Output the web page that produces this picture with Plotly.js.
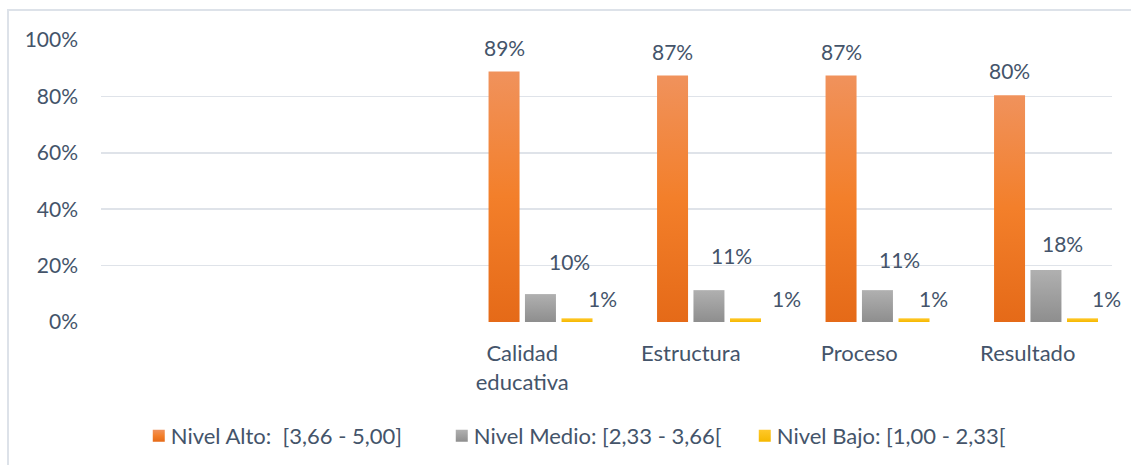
<!DOCTYPE html>
<html>
<head>
<meta charset="utf-8">
<script src="https://cdn.plot.ly/plotly-3.0.1.min.js"></script>
<style>
  html, body { margin: 0; padding: 0; background: #ffffff; overflow: hidden; }
  #wrap { position: relative; width: 1131px; height: 465px; }
  #chart { width: 1131px; height: 465px; }
  #frame { position: absolute; left: 7px; top: 9px; width: 1200px; height: 500px;
           border-left: 2px solid #DDE2E9; border-top: 2px solid #DDE2E9; pointer-events: none; }
</style>
</head>
<body>
<div id="wrap"><div id="chart"></div><div id="frame"></div></div>
<script>
// ---- data ----
const categories = ['Calidad<br>educativa', 'Estructura', 'Proceso', 'Resultado'];
const seriesNames = ['Nivel Alto:\u00a0 [3,66 - 5,00]', 'Nivel Medio: [2,33 - 3,66[', 'Nivel Bajo: [1,00 - 2,33['];
const nivelAlto  = [0.888, 0.874, 0.874, 0.804];
const nivelMedio = [0.099, 0.113, 0.113, 0.184];
const nivelBajo  = [0.013, 0.013, 0.013, 0.013];
const yTickVals  = [0, 0.2, 0.4, 0.6, 0.8, 1.0];
const yTickText  = ['0%', '20%', '40%', '60%', '80%', '100%'];

// ---- style ----
const textColor = '#44546A';
const fontFam = 'Lato, "Open Sans", sans-serif';
const numSize = 21;
const wordSize = 22;
const barW = 0.184;
const centers = [-0.108, 0.108, 0.325];           // bar centre offsets within a category
// data-label placement (pixel nudges from each bar's centre / top), as placed in the original
const labelShiftX = [[0, 0, 0, 0], [29, 23, 22, 17], [25, 41, 19, 24]];
const labelShiftY = [[24, 24, 24, 25], [33, 35, 31, 27], [20, 20, 20, 20]];
const baseColors = ['#F07F2C', '#A0A0A0', '#FFC000'];
const gradients = [
  [['0%', '#F0925C'], ['50%', '#F37F2A'], ['100%', '#E56A18']],
  [['0%', '#B0B0B0'], ['100%', '#8E8E8E']],
  [['0%', '#FFC82A'], ['100%', '#F5B800']]
];

const allSeries = [nivelAlto, nivelMedio, nivelBajo];
const traces = allSeries.map((vals, k) => ({
  type: 'bar',
  name: seriesNames[k],
  x: categories,
  y: vals,
  width: barW,
  offset: centers[k] - barW / 2,
  marker: { color: baseColors[k], line: { width: 0 } },
  hoverinfo: 'skip'
}));

const annotations = [];
allSeries.forEach((vals, k) => {
  vals.forEach((v, i) => {
    annotations.push({
      x: i + centers[k],
      y: v,
      xref: 'x', yref: 'y',
      text: Math.round(v * 100) + '%',
      showarrow: false,
      xanchor: 'center', yanchor: 'middle',
      xshift: labelShiftX[k][i],
      yshift: labelShiftY[k][i],
      font: { family: fontFam, size: numSize, color: textColor }
    });
  });
});

const layout = {
  width: 1131, height: 465,
  margin: { l: 101, r: 19, t: 39.5, b: 143, autoexpand: false },
  paper_bgcolor: 'rgba(0,0,0,0)',
  plot_bgcolor: 'rgba(0,0,0,0)',
  barmode: 'overlay',
  font: { family: fontFam, size: wordSize, color: textColor },
  showlegend: true,
  legend: {
    orientation: 'h',
    x: 0.479, xanchor: 'center',
    y: -0.33, yanchor: 'top',
    font: { family: fontFam, size: wordSize, color: textColor },
    itemwidth: 30,
    entrywidth: 258,
    entrywidthmode: 'pixels',
    traceorder: 'normal'
  },
  xaxis: {
    type: 'category',
    range: [-2.5, 3.5],
    showgrid: false, zeroline: false, showline: false,
    ticks: '',
    ticklabelstandoff: 16,
    tickfont: { family: fontFam, size: wordSize, color: textColor },
    automargin: false,
    fixedrange: true
  },
  yaxis: {
    range: [0, 1],
    tickvals: yTickVals,
    ticktext: yTickText,
    showgrid: true, gridcolor: '#DFE3E9', gridwidth: 1.6,
    zeroline: false, showline: false,
    ticks: '',
    ticklabelstandoff: 22,
    tickfont: { family: fontFam, size: numSize, color: textColor },
    automargin: false,
    fixedrange: true
  },
  annotations: annotations
};

Plotly.newPlot('chart', traces, layout, { displayModeBar: false, staticPlot: true }).then(gd => {
  const svgNS = 'http://www.w3.org/2000/svg';
  const svg = gd.querySelector('svg.main-svg');
  let defs = svg.querySelector('defs');
  if (!defs) { defs = document.createElementNS(svgNS, 'defs'); svg.insertBefore(defs, svg.firstChild); }
  gradients.forEach((stops, k) => {
    const g = document.createElementNS(svgNS, 'linearGradient');
    g.setAttribute('id', 'barGrad' + k);
    g.setAttribute('x1', '0'); g.setAttribute('y1', '0');
    g.setAttribute('x2', '0'); g.setAttribute('y2', '1');
    stops.forEach(s => {
      const st = document.createElementNS(svgNS, 'stop');
      st.setAttribute('offset', s[0]);
      st.setAttribute('stop-color', s[1]);
      g.appendChild(st);
    });
    defs.appendChild(g);
  });
  gd.querySelectorAll('.barlayer .trace').forEach((tr, k) => {
    tr.querySelectorAll('path').forEach(p => { p.style.fill = 'url(#barGrad' + k + ')'; });
  });
  gd.querySelectorAll('.legend .traces').forEach((tr, k) => {
    tr.querySelectorAll('.legendpoints').forEach(lp => { lp.setAttribute('transform', 'translate(8,0)'); });
    tr.querySelectorAll('.legendpoints path').forEach(p => { p.style.fill = 'url(#barGrad' + k + ')'; });
  });
});
</script>
</body>
</html>
